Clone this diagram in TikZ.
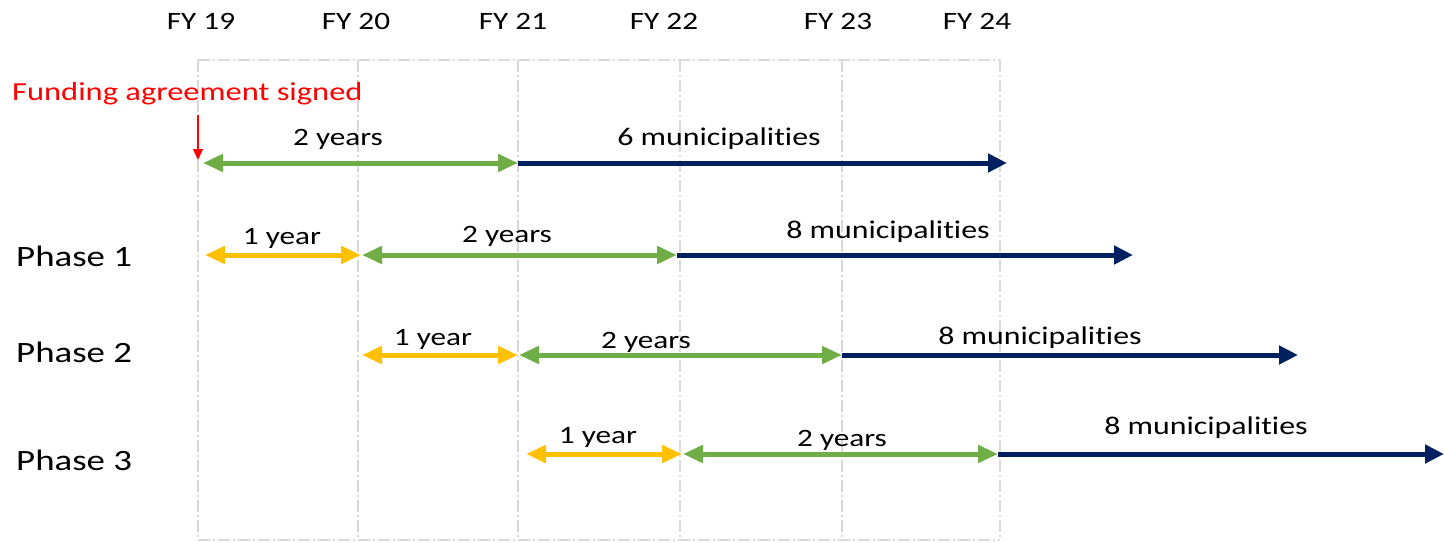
\documentclass[tikz,border=0pt]{standalone}
\usepackage{fontspec}
\setmainfont{Carlito}[FakeStretch=1.25, RawFeature=-liga]
\usetikzlibrary{arrows.meta}
\definecolor{tlgreen}{HTML}{70AD47}
\definecolor{tlnavy}{HTML}{002060}
\definecolor{tlyellow}{HTML}{FFC000}
\definecolor{tlgrid}{HTML}{D9D9D9}
\tikzset{
  gridline/.style={tlgrid, line width=1.5pt, dash pattern=on 12pt off 3pt on 2pt off 3pt},
  greenarr/.style={tlgreen, line width=5pt, {Triangle[length=20pt,width=17pt]}-{Triangle[length=20pt,width=17pt]}},
  yellowarr/.style={tlyellow, line width=5pt, {Triangle[length=20pt,width=17pt]}-{Triangle[length=20pt,width=17pt]}},
  navyarr/.style={tlnavy, line width=5pt, -{Triangle[length=19pt,width=18pt]}},
  fylabel/.style={inner sep=0pt, font=\fontsize{25}{30}\selectfont},
  durlabel/.style={inner sep=0pt, font=\fontsize{25}{30}\selectfont},
  munilabel/.style={inner sep=0pt, font=\fontsize{25.5}{30}\selectfont},
  phaselabel/.style={inner sep=0pt, anchor=west, font=\fontsize{29.5}{34}\selectfont},
}
\begin{document}
\begin{tikzpicture}[x=1pt, y=-1pt]
\useasboundingbox (0,0) rectangle (1444,543);
% grid
\foreach \gx in {198,358,518,680,842,1000} {
  \draw[gridline] (\gx,60) -- (\gx,540);
}
\draw[gridline] (198,60) -- (1000,60);
\draw[gridline] (198,540) -- (1000,540);
% FY labels
\node[fylabel] (fy19) at (201,21) {FY 19};
\node[fylabel] (fy20) at (356,21) {FY 20};
\node[fylabel] (fy21) at (513,21) {FY 21};
\node[fylabel] (fy22) at (664,21) {FY 22};
\node[fylabel] (fy23) at (838,21) {FY 23};
\node[fylabel] (fy24) at (977,21) {FY 24};
% funding agreement
\node[inner sep=0pt, anchor=west, text=red, font=\fontsize{26}{30}\selectfont] (fund) at (12,94) {Funding agreement signed};
\coordinate (redtop) at (198,115);
\coordinate (redbot) at (198,160);
\draw[red, line width=1.2pt, -{Triangle[length=11pt,width=10pt]}] (redtop) -- (redbot);
% row 0
\coordinate (r0a) at (203,163);
\coordinate (r0b) at (518,163);
\coordinate (r0c) at (1007,163);
\draw[greenarr] (r0a) -- (r0b);
\draw[navyarr] (r0b) -- (r0c);
\node[durlabel] (l0a) at (338,139) {2 years};
\node[munilabel] (l0b) at (719,139) {6 municipalities};
% row 1
\node[phaselabel] (ph1) at (16,256) {Phase 1};
\coordinate (r1a) at (205,255);
\coordinate (r1b) at (361,255);
\coordinate (r1c) at (362,255);
\coordinate (r1d) at (677,255);
\coordinate (r1e) at (1133,255);
\draw[yellowarr] (r1a) -- (r1b);
\draw[greenarr] (r1c) -- (r1d);
\draw[navyarr] (r1d) -- (r1e);
\node[durlabel] (l1a) at (282,238) {1 year};
\node[durlabel] (l1b) at (507,236) {2 years};
\node[munilabel] (l1c) at (888,232) {8 municipalities};
% row 2
\node[phaselabel] (ph2) at (16,352) {Phase 2};
\coordinate (r2a) at (362,355);
\coordinate (r2b) at (518,355);
\coordinate (r2c) at (519,355);
\coordinate (r2d) at (842,355);
\coordinate (r2e) at (1298,355);
\draw[yellowarr] (r2a) -- (r2b);
\draw[greenarr] (r2c) -- (r2d);
\draw[navyarr] (r2d) -- (r2e);
\node[durlabel] (l2a) at (433,339) {1 year};
\node[durlabel] (l2b) at (646,342) {2 years};
\node[munilabel] (l2c) at (1040,338) {8 municipalities};
% row 3
\node[phaselabel] (ph3) at (16,460) {Phase 3};
\coordinate (r3a) at (526,454);
\coordinate (r3b) at (682,454);
\coordinate (r3c) at (683,454);
\coordinate (r3d) at (998,454);
\coordinate (r3e) at (1444,454);
\draw[yellowarr] (r3a) -- (r3b);
\draw[greenarr] (r3c) -- (r3d);
\draw[navyarr] (r3d) -- (r3e);
\node[durlabel] (l3a) at (598,437) {1 year};
\node[durlabel] (l3b) at (842,440) {2 years};
\node[munilabel] (l3c) at (1206,428) {8 municipalities};
\end{tikzpicture}
\end{document}
